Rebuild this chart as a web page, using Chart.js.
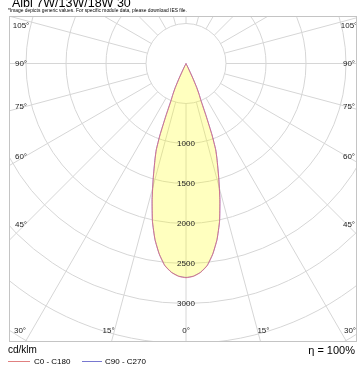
<!DOCTYPE html>
<html><head><meta charset="utf-8">
<script src="https://cdn.jsdelivr.net/npm/chart.js@4.4.1/dist/chart.umd.min.js"></script>
<style>
html,body{margin:0;padding:0;background:#fff;width:358px;height:365px;overflow:hidden;font-family:"Liberation Sans",Arial,sans-serif}
#c{position:absolute;left:0;top:0}
.t{position:absolute;white-space:nowrap;color:#000;line-height:1}
.lg{position:absolute;height:0;border-top:1px solid}
</style></head><body>
<canvas id="c" width="358" height="365"></canvas>
<div class="t" style="left:12px;top:-3.1px;font-size:12.5px">Albi 7W/13W/18W 30</div>
<div class="t" style="left:8px;top:8.5px;font-size:4.9px">*Image depicts generic values. For specific module data, please download IES file.</div>
<div class="t" style="left:8px;top:345px;font-size:10px">cd/klm</div>
<div class="t" style="right:3px;top:344.7px;font-size:11px">η = 100%</div>
<div class="lg" style="left:8px;width:22px;top:361px;border-color:#e08080"></div>
<div class="t" style="left:34px;top:357.5px;font-size:8px">C0 - C180</div>
<div class="lg" style="left:82px;width:20px;top:361px;border-color:#7878d0"></div>
<div class="t" style="left:105px;top:357.5px;font-size:8px">C90 - C270</div>
<script>
// polar luminous intensity data (gamma angle in degrees, cd/klm)
const gammaDeg = [0, 2, 4, 6, 8, 10, 12, 14, 16, 18, 19, 20, 21, 22, 23, 24, 25, 26, 27, 30, 45, 60, 90, 120, 150, 180];
const c0c180   = [2678, 2662, 2618, 2540, 2406, 2235, 2018, 1750, 1483, 1252, 1140, 950, 700, 500, 420, 330, 200, 60, 0, 0, 0, 0, 0, 0, 0, 0];
const c90c270  = [2674, 2659, 2615, 2537, 2403, 2232, 2016, 1750, 1483, 1252, 1140, 950, 700, 500, 420, 330, 200, 60, 0, 0, 0, 0, 0, 0, 0, 0];
const ringValues = [500, 1000, 1500, 2000, 2500, 3000, 3500, 4000, 4500];
const ringLabels = ['1000', '1500', '2000', '2500', '3000'];
const sideAngleLabels = [45, 60, 75, 90, 105];
const bottomAngleLabels = [-30, -15, 0, 15, 30];

function toXY(angles, vals) {
  const pts = [];
  for (let i = angles.length - 1; i > 0; i--) {
    const t = -angles[i] * Math.PI / 180;
    pts.push({x: vals[i] * Math.sin(t), y: -vals[i] * Math.cos(t)});
  }
  for (let i = 0; i < angles.length; i++) {
    const t = angles[i] * Math.PI / 180;
    pts.push({x: vals[i] * Math.sin(t), y: -vals[i] * Math.cos(t)});
  }
  return pts;
}

const gridColor = '#d6d6d6';
const polarGrid = {
  id: 'polarGrid',
  beforeDatasetsDraw(chart) {
    const {ctx, chartArea: a, scales: {x, y}} = chart;
    const cx = x.getPixelForValue(0), cy = y.getPixelForValue(0);
    ctx.save();
    ctx.beginPath(); ctx.rect(a.left, a.top, a.right - a.left, a.bottom - a.top); ctx.clip();
    ctx.strokeStyle = gridColor; ctx.lineWidth = 1;
    ringValues.forEach(v => {
      const r = x.getPixelForValue(v) - cx;
      ctx.beginPath(); ctx.arc(cx, cy, r, 0, 2 * Math.PI); ctx.stroke();
    });
    const r0 = x.getPixelForValue(ringValues[0]) - cx;
    for (let d = 0; d < 360; d += 15) {
      const t = d * Math.PI / 180;
      ctx.beginPath();
      ctx.moveTo(cx + r0 * Math.sin(t), cy + r0 * Math.cos(t));
      ctx.lineTo(cx + 1000 * Math.sin(t), cy + 1000 * Math.cos(t));
      ctx.stroke();
    }
    ctx.restore();
  },
  afterDatasetsDraw(chart) {
    const {ctx, chartArea: a, scales: {x, y}} = chart;
    const cx = x.getPixelForValue(0), cy = y.getPixelForValue(0);
    ctx.save();
    ctx.fillStyle = '#222';
    ctx.font = '8px "Liberation Sans", Arial, sans-serif';
    ctx.textAlign = 'center'; ctx.textBaseline = 'middle';
    ringLabels.forEach(l => {
      ctx.fillText(l, cx, y.getPixelForValue(-Number(l)));
    });
    const sideDist = x.getPixelForValue(2012) - cx;
    sideAngleLabels.forEach(d => {
      const t = d * Math.PI / 180;
      let py = cy + sideDist * Math.cos(t) / Math.sin(t);
      py = Math.max(py, a.top + 10);
      ctx.fillText(d + '°', a.left + 12, py);
      ctx.fillText(d + '°', a.right - 8, py);
    });
    const botDist = cy - y.getPixelForValue(-3612);
    bottomAngleLabels.forEach(d => {
      const t = d * Math.PI / 180;
      const px = cx + botDist * Math.tan(t);
      ctx.fillText(Math.abs(d) + '°', Math.min(Math.max(px, a.left + 11), a.right - 7), a.bottom - 11);
    });
    ctx.strokeStyle = '#c4c4c4'; ctx.lineWidth = 1;
    ctx.strokeRect(a.left + 0.5, a.top + 0.5, a.right - a.left - 1, a.bottom - a.top - 1);
    ctx.restore();
  }
};

new Chart(document.getElementById('c'), {
  type: 'scatter',
  data: {
    datasets: [
      {label: 'C0 - C180', data: toXY(gammaDeg, c0c180), showLine: true, fill: 'shape',
       backgroundColor: 'rgba(255,255,0,0.25)', borderColor: 'rgba(225,100,120,0.7)', borderWidth: 1, pointRadius: 0, tension: 0.15},
      {label: 'C90 - C270', data: toXY(gammaDeg, c90c270), showLine: true, fill: false,
       borderColor: 'rgba(110,90,220,0.75)', borderWidth: 1, pointRadius: 0, tension: 0.15}
    ]
  },
  options: {
    responsive: false, animation: false, events: [],
    layout: {padding: {left: 9, right: 1, top: 16, bottom: 23}},
    scales: {
      x: {type: 'linear', display: false, min: -2212.5, max: 2137.5},
      y: {type: 'linear', display: false, min: -3481.25, max: 593.75}
    },
    plugins: {legend: {display: false}, tooltip: {enabled: false}}
  },
  plugins: [polarGrid]
});
</script>
</body></html>
